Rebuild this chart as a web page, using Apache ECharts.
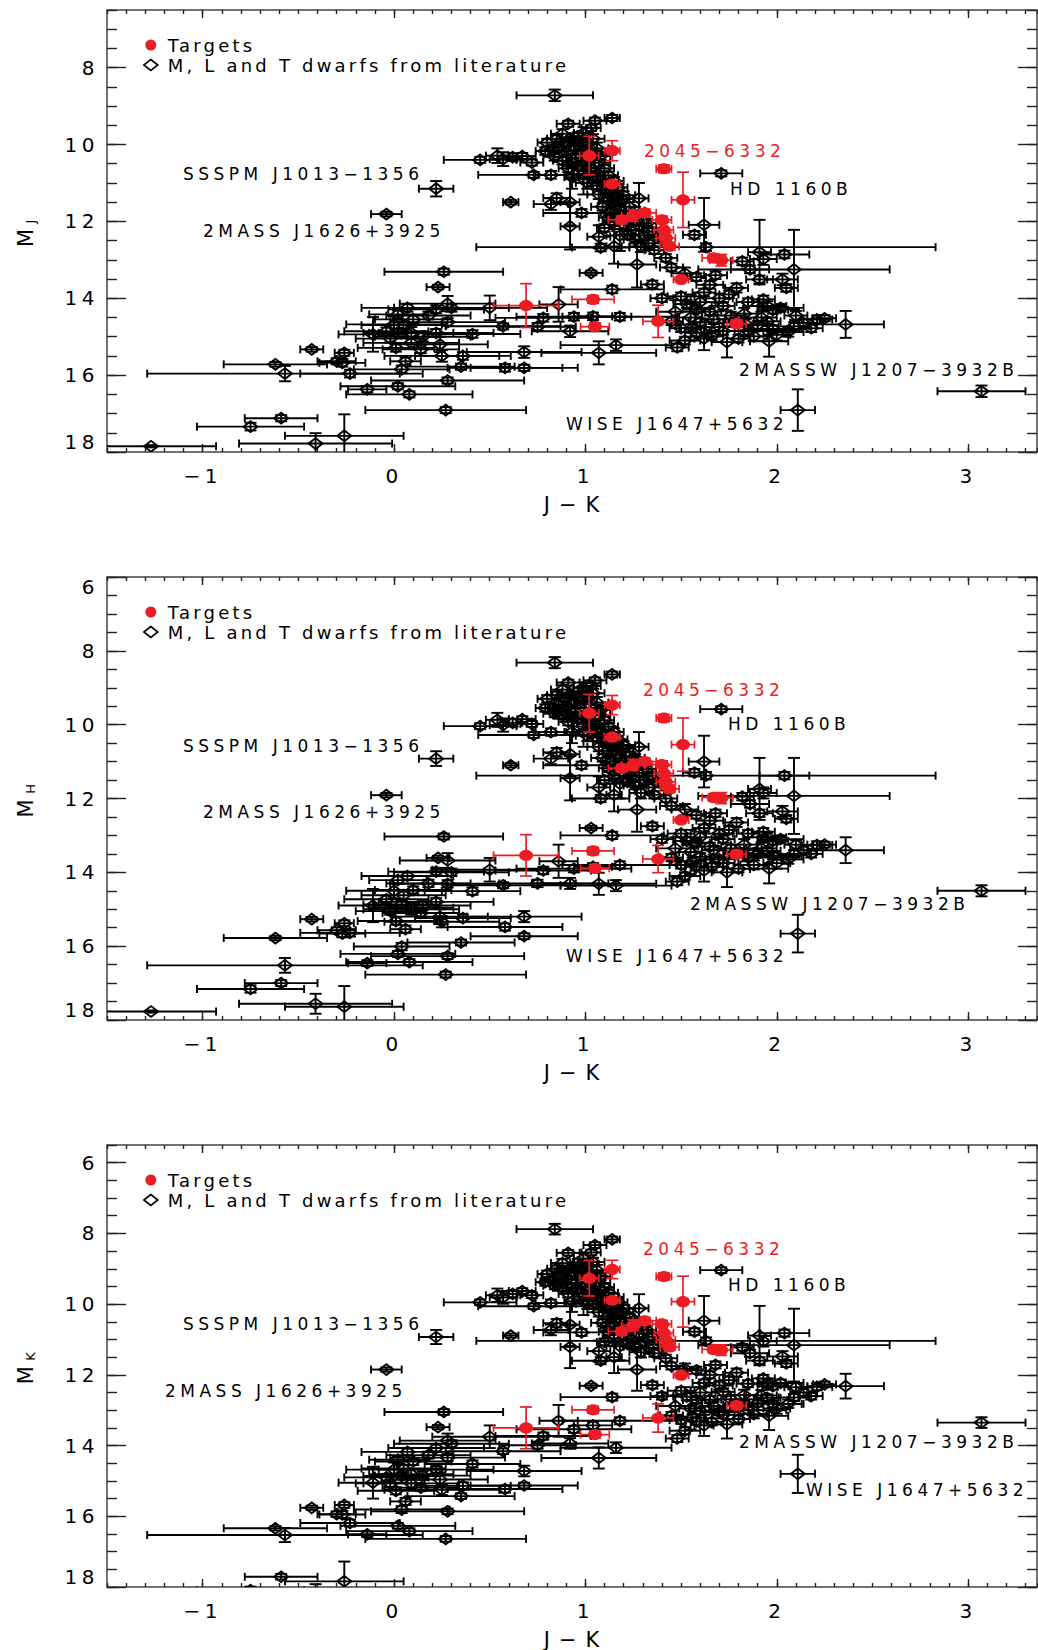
<!DOCTYPE html>
<html>
<head>
<meta charset="utf-8">
<script src="https://cdn.jsdelivr.net/npm/echarts@6/dist/echarts.min.js"></script>
<style>
  html, body { margin: 0; padding: 0; background: #fff; }
  #chart { width: 1038px; height: 1650px; }
  /* the original plot uses a wide, loosely spaced vector font */
  #chart text { letter-spacing: 4.5px; }
  #chart text[style*="17px"] { letter-spacing: 4.5px; }
  #chart text[style*="18px"] { letter-spacing: 3.2px; }
  #chart text[style*="21px"] { letter-spacing: 9px; }
  #chart text[style*="13px"] { letter-spacing: 0; }
</style>
</head>
<body>
<div id="chart"></div>
<script>
// rows are [J-K, err(J-K), absolute magnitude, err(mag)]
const litJ = [
  [0.84, 0.20, 8.72, 0.15], [0.22, 0.09, 11.15, 0.20], [-0.04, 0.08, 11.81, 0.06],
  [1.71, 0.11, 10.75, 0.08], [3.07, 0.23, 16.42, 0.15], [2.11, 0.09, 16.91, 0.54],
  [1.14, 0.04, 9.31, 0.08], [1.05, 0.06, 9.38, 0.08], [0.91, 0.06, 9.46, 0.08], [1.03, 0.05, 9.57, 0.08],
  [0.45, 0.19, 10.40, 0.08], [0.54, 0.06, 10.29, 0.19], [0.57, 0.07, 10.38, 0.18], [0.62, 0.05, 10.33, 0.10],
  [0.67, 0.07, 10.30, 0.08], [0.72, 0.06, 10.47, 0.08], [0.73, 0.29, 10.79, 0.08], [0.82, 0.08, 10.79, 0.10],
  [0.79, 0.05, 10.17, 0.10], [0.61, 0.04, 11.50, 0.06], [0.85, 0.07, 11.39, 0.12], [0.82, 0.09, 11.55, 0.15],
  [0.92, 0.05, 11.50, 0.60], [0.98, 0.20, 11.78, 0.10], [0.93, 0.04, 10.85, 0.30], [0.92, 0.05, 12.13, 0.60],
  [0.80, 0.05, 9.95, 0.10], [0.85, 0.05, 9.85, 0.10], [0.88, 0.06, 9.72, 0.12], [0.93, 0.05, 9.90, 0.10],
  [0.96, 0.04, 9.78, 0.10], [0.99, 0.05, 9.70, 0.15], [1.01, 0.05, 9.95, 0.10], [1.04, 0.06, 9.85, 0.12],
  [0.86, 0.05, 10.08, 0.10], [0.90, 0.06, 10.18, 0.10], [0.94, 0.05, 10.05, 0.10], [0.97, 0.06, 10.25, 0.12],
  [1.00, 0.05, 10.15, 0.10], [1.06, 0.06, 10.10, 0.15], [1.08, 0.05, 10.30, 0.10], [0.84, 0.06, 10.32, 0.10],
  [0.88, 0.05, 10.42, 0.10], [0.93, 0.05, 10.47, 0.12], [0.96, 0.06, 10.57, 0.10], [1.00, 0.05, 10.52, 0.10],
  [1.03, 0.05, 10.62, 0.15], [1.07, 0.06, 10.47, 0.10], [1.10, 0.05, 10.62, 0.10], [0.99, 0.05, 10.77, 0.10],
  [1.04, 0.05, 10.82, 0.12], [1.08, 0.06, 10.92, 0.10], [1.12, 0.05, 10.80, 0.10], [1.15, 0.05, 10.95, 0.10],
  [1.06, 0.05, 11.07, 0.10], [1.10, 0.06, 11.17, 0.12], [1.13, 0.05, 11.27, 0.10], [1.17, 0.05, 11.12, 0.10],
  [1.20, 0.06, 11.32, 0.10], [1.12, 0.05, 11.47, 0.15], [1.16, 0.05, 11.57, 0.10], [1.19, 0.06, 11.42, 0.10],
  [1.23, 0.05, 11.62, 0.12], [1.09, 0.06, 11.62, 0.10], [1.13, 0.05, 11.77, 0.10], [1.17, 0.06, 11.87, 0.12],
  [1.21, 0.05, 11.82, 0.10], [1.26, 0.05, 11.72, 0.10], [1.15, 0.06, 12.02, 0.10], [1.20, 0.05, 12.07, 0.12],
  [1.24, 0.06, 12.22, 0.10], [1.28, 0.05, 12.12, 0.10], [1.31, 0.06, 12.37, 0.12], [1.35, 0.05, 12.27, 0.10],
  [1.10, 0.04, 12.17, 0.10], [1.18, 0.07, 12.37, 0.40], [1.26, 0.06, 12.47, 0.10], [1.33, 0.07, 12.57, 0.15],
  [1.38, 0.06, 12.42, 0.10], [1.08, 0.15, 12.68, 0.10], [1.27, 0.10, 13.12, 0.60], [1.03, 0.06, 13.34, 0.06],
  [1.35, 0.06, 13.64, 0.10], [1.14, 0.27, 13.77, 0.10], [1.28, 0.05, 11.40, 0.40], [1.15, 0.04, 12.65, 0.45],
  [0.99, 0.05, 10.90, 0.40], [1.07, 0.06, 12.40, 0.30],
  [0.95, 0.05, 10.35, 0.10], [1.02, 0.05, 10.40, 0.12], [1.05, 0.05, 10.70, 0.10], [0.91, 0.05, 10.62, 0.10],
  [1.11, 0.05, 11.02, 0.10], [1.01, 0.06, 11.00, 0.15], [1.14, 0.05, 11.38, 0.10], [1.07, 0.06, 11.30, 0.12],
  [1.18, 0.05, 11.70, 0.10], [1.22, 0.05, 11.95, 0.12], [1.12, 0.05, 11.90, 0.10], [1.27, 0.06, 11.95, 0.10],
  [1.32, 0.05, 12.05, 0.12], [1.22, 0.06, 12.35, 0.10], [1.29, 0.06, 12.65, 0.15], [1.36, 0.05, 12.75, 0.10],
  [1.42, 0.06, 12.95, 0.10], [0.89, 0.05, 9.95, 0.10], [0.97, 0.05, 9.92, 0.12], [0.83, 0.06, 10.15, 0.10],
  [1.05, 0.05, 10.25, 0.10],
  [1.63, 1.20, 12.67, 0.10], [1.62, 0.08, 12.09, 0.70], [1.57, 0.06, 12.35, 0.10], [1.91, 0.06, 12.80, 0.84],
  [2.04, 0.13, 12.86, 0.10], [2.09, 0.50, 13.25, 1.03], [1.93, 0.07, 12.98, 0.15], [1.82, 0.06, 13.04, 0.10],
  [1.45, 0.06, 13.20, 0.10], [1.52, 0.07, 13.35, 0.15], [1.58, 0.05, 13.45, 0.10], [1.91, 0.07, 13.51, 0.10],
  [2.03, 0.08, 13.51, 0.15], [2.05, 0.06, 13.73, 0.10], [1.79, 0.06, 13.73, 0.12], [1.65, 0.07, 13.65, 0.10],
  [1.93, 0.06, 14.03, 0.10], [2.02, 0.12, 14.25, 0.10], [2.36, 0.20, 14.68, 0.35], [2.21, 0.08, 14.55, 0.10],
  [2.14, 0.07, 14.64, 0.10], [2.09, 0.08, 14.73, 0.10], [1.96, 0.10, 15.12, 0.40], [1.74, 0.08, 15.14, 0.40],
  [1.48, 0.06, 15.28, 0.10], [1.58, 0.07, 14.29, 0.10], [1.67, 0.06, 14.55, 0.12], [1.56, 0.07, 14.77, 0.10],
  [1.66, 0.06, 14.99, 0.10], [1.88, 0.07, 14.99, 0.12], [1.50, 0.07, 13.95, 0.10], [1.60, 0.08, 14.10, 0.15],
  [1.72, 0.06, 14.20, 0.10], [1.83, 0.07, 14.40, 0.15], [1.75, 0.05, 13.90, 0.10], [1.55, 0.06, 14.50, 0.60],
  [1.45, 0.06, 14.60, 0.10], [1.98, 0.15, 14.80, 0.10], [1.85, 0.20, 14.85, 0.10], [1.70, 0.10, 14.75, 0.10],
  [1.62, 0.05, 15.05, 0.30], [1.52, 0.08, 15.10, 0.10], [1.40, 0.06, 14.00, 0.10], [1.47, 0.10, 14.35, 0.30],
  [1.78, 0.06, 14.62, 0.10], [1.92, 0.08, 14.50, 0.15], [2.25, 0.06, 14.52, 0.08],
  [1.62, 0.06, 13.85, 0.10], [1.70, 0.07, 14.00, 0.12], [1.85, 0.06, 14.10, 0.10], [1.98, 0.08, 14.30, 0.10],
  [2.10, 0.06, 14.45, 0.12], [1.65, 0.06, 14.35, 0.10], [1.76, 0.07, 14.45, 0.10], [1.90, 0.06, 14.70, 0.10],
  [2.00, 0.07, 14.95, 0.15], [1.58, 0.06, 14.90, 0.10], [1.80, 0.06, 15.05, 0.10], [1.53, 0.07, 14.15, 0.10],
  [2.18, 0.06, 14.78, 0.10], [1.95, 0.10, 14.20, 0.12], [1.68, 0.06, 13.40, 0.10], [1.86, 0.10, 13.25, 0.10],
  [1.72, 0.06, 14.85, 0.10], [1.95, 0.07, 14.60, 0.10], [2.06, 0.08, 14.88, 0.12], [1.60, 0.06, 14.62, 0.10],
  [1.84, 0.06, 14.68, 0.15], [1.50, 0.06, 14.78, 0.10],
  [0.78, 0.25, 14.51, 0.10], [0.94, 0.30, 14.48, 0.10], [1.04, 0.10, 14.47, 0.10], [1.18, 0.30, 14.48, 0.10],
  [0.75, 0.20, 14.74, 0.10], [0.92, 0.20, 14.86, 0.15], [1.16, 0.29, 15.22, 0.15], [1.07, 0.30, 15.42, 0.30],
  [0.68, 0.30, 15.40, 0.15], [0.86, 0.10, 14.16, 0.45], [0.68, 0.28, 15.81, 0.08],
  [0.26, 0.31, 13.31, 0.08], [0.23, 0.06, 13.71, 0.06], [0.28, 0.25, 14.14, 0.20], [0.22, 0.25, 14.29, 0.10],
  [0.07, 0.24, 14.25, 0.10], [0.30, 0.30, 14.25, 0.10], [0.50, 0.30, 14.25, 0.32], [0.57, 0.30, 14.73, 0.08],
  [0.28, 0.30, 14.62, 0.10], [0.10, 0.20, 14.55, 0.10], [0.02, 0.15, 14.42, 0.10], [0.00, 0.25, 14.68, 0.20],
  [-0.04, 0.22, 14.86, 0.10], [-0.11, 0.18, 14.94, 0.45], [0.04, 0.20, 14.90, 0.10], [0.09, 0.22, 14.90, 0.15],
  [0.22, 0.30, 14.90, 0.10], [0.41, 0.25, 14.93, 0.10], [0.01, 0.20, 15.29, 0.10], [0.09, 0.25, 15.16, 0.15],
  [0.14, 0.20, 15.33, 0.10], [0.24, 0.25, 15.20, 0.20], [0.25, 0.30, 15.50, 0.15], [0.36, 0.25, 15.50, 0.10],
  [0.06, 0.08, 15.64, 0.10], [0.35, 0.28, 15.78, 0.08], [0.58, 0.30, 15.81, 0.10], [0.04, 0.25, 15.85, 0.10],
  [0.28, 0.40, 16.14, 0.08], [0.02, 0.30, 16.29, 0.08], [0.08, 0.33, 16.50, 0.08], [-0.14, 0.10, 16.37, 0.08],
  [0.27, 0.42, 16.91, 0.08], [-0.23, 0.26, 15.96, 0.10], [-0.26, 0.05, 15.42, 0.08], [-0.30, 0.10, 15.64, 0.08],
  [-0.27, 0.12, 15.68, 0.10], [-0.43, 0.06, 15.33, 0.06], [-0.62, 0.27, 15.72, 0.06], [-0.57, 0.72, 15.96, 0.20],
  [-0.59, 0.19, 17.12, 0.08], [-0.75, 0.28, 17.34, 0.10], [-0.26, 0.31, 17.58, 0.56], [-0.41, 0.40, 17.78, 0.27],
  [-1.27, 0.34, 17.85, 0.03],
  [0.05, 0.22, 14.70, 0.10], [0.15, 0.25, 15.00, 0.12], [-0.02, 0.18, 15.05, 0.10], [0.18, 0.22, 14.45, 0.10]
];

const litH = [
  [0.84, 0.20, 8.32, 0.15], [0.22, 0.09, 10.92, 0.20], [-0.04, 0.08, 11.91, 0.06],
  [1.71, 0.11, 9.58, 0.08], [3.07, 0.23, 14.50, 0.15], [2.11, 0.09, 15.66, 0.51],
  [1.14, 0.04, 8.64, 0.08], [1.05, 0.06, 8.80, 0.08], [0.91, 0.06, 8.86, 0.08], [1.03, 0.05, 8.95, 0.08],
  [0.45, 0.19, 10.04, 0.08], [0.54, 0.06, 9.87, 0.19], [0.57, 0.07, 10.01, 0.18], [0.62, 0.05, 9.95, 0.10],
  [0.67, 0.07, 9.85, 0.08], [0.72, 0.06, 9.98, 0.08], [0.73, 0.29, 10.28, 0.08], [0.82, 0.08, 10.20, 0.10],
  [0.79, 0.05, 9.55, 0.10], [0.61, 0.04, 11.10, 0.06], [0.85, 0.07, 10.75, 0.12], [0.82, 0.09, 10.92, 0.15],
  [0.92, 0.05, 10.80, 0.60], [0.98, 0.20, 11.10, 0.10], [0.93, 0.04, 10.20, 0.30], [0.92, 0.05, 11.45, 0.60],
  [0.80, 0.05, 9.30, 0.10], [0.85, 0.05, 9.20, 0.10], [0.88, 0.06, 9.05, 0.12], [0.93, 0.05, 9.20, 0.10],
  [0.96, 0.04, 9.10, 0.10], [0.99, 0.05, 9.00, 0.15], [1.01, 0.05, 9.25, 0.10], [1.04, 0.06, 9.15, 0.12],
  [0.86, 0.05, 9.45, 0.10], [0.90, 0.06, 9.50, 0.10], [0.94, 0.05, 9.35, 0.10], [0.97, 0.06, 9.55, 0.12],
  [1.00, 0.05, 9.45, 0.10], [1.06, 0.06, 9.40, 0.15], [1.08, 0.05, 9.60, 0.10], [0.84, 0.06, 9.70, 0.10],
  [0.88, 0.05, 9.75, 0.10], [0.93, 0.05, 9.80, 0.12], [0.96, 0.06, 9.85, 0.10], [1.00, 0.05, 9.80, 0.10],
  [1.03, 0.05, 9.90, 0.15], [1.07, 0.06, 9.75, 0.10], [1.10, 0.05, 9.88, 0.10], [0.99, 0.05, 10.05, 0.10],
  [1.04, 0.05, 10.10, 0.12], [1.08, 0.06, 10.20, 0.10], [1.12, 0.05, 10.05, 0.10], [1.15, 0.05, 10.20, 0.10],
  [1.06, 0.05, 10.35, 0.10], [1.10, 0.06, 10.45, 0.12], [1.13, 0.05, 10.50, 0.10], [1.17, 0.05, 10.40, 0.10],
  [1.20, 0.06, 10.55, 0.10], [1.12, 0.05, 10.70, 0.15], [1.16, 0.05, 10.80, 0.10], [1.19, 0.06, 10.65, 0.10],
  [1.23, 0.05, 10.85, 0.12], [1.09, 0.06, 10.90, 0.10], [1.13, 0.05, 11.00, 0.10], [1.17, 0.06, 11.10, 0.12],
  [1.21, 0.05, 11.00, 0.10], [1.26, 0.05, 10.90, 0.10], [1.15, 0.06, 11.25, 0.10], [1.20, 0.05, 11.30, 0.12],
  [1.24, 0.06, 11.40, 0.10], [1.28, 0.05, 11.30, 0.10], [1.31, 0.06, 11.50, 0.12], [1.35, 0.05, 11.40, 0.10],
  [1.10, 0.04, 11.50, 0.10], [1.18, 0.07, 11.60, 0.40], [1.26, 0.06, 11.65, 0.10], [1.33, 0.07, 11.70, 0.15],
  [1.38, 0.06, 11.55, 0.10], [1.08, 0.15, 12.00, 0.10], [1.27, 0.10, 12.30, 0.60], [1.03, 0.06, 12.80, 0.06],
  [1.35, 0.06, 12.75, 0.10], [1.14, 0.27, 13.00, 0.10], [1.28, 0.05, 10.60, 0.40], [1.15, 0.04, 11.90, 0.45],
  [0.99, 0.05, 10.20, 0.40], [1.07, 0.06, 11.70, 0.30],
  [0.95, 0.05, 9.65, 0.10], [1.02, 0.05, 9.70, 0.12], [1.05, 0.05, 9.98, 0.10], [0.91, 0.05, 9.92, 0.10],
  [1.11, 0.05, 10.28, 0.10], [1.01, 0.06, 10.30, 0.15], [1.14, 0.05, 10.62, 0.10], [1.07, 0.06, 10.60, 0.12],
  [1.18, 0.05, 10.92, 0.10], [1.22, 0.05, 11.15, 0.12], [1.12, 0.05, 11.18, 0.10], [1.27, 0.06, 11.12, 0.10],
  [1.32, 0.05, 11.20, 0.12], [1.22, 0.06, 11.55, 0.10], [1.29, 0.06, 11.85, 0.15], [1.36, 0.05, 11.90, 0.10],
  [1.42, 0.06, 12.00, 0.10], [0.89, 0.05, 9.28, 0.10], [0.97, 0.05, 9.25, 0.12], [0.83, 0.06, 9.55, 0.10],
  [1.05, 0.05, 9.55, 0.10],
  [1.63, 1.20, 11.38, 0.10], [1.62, 0.08, 11.00, 0.70], [1.57, 0.06, 11.30, 0.10], [1.91, 0.06, 11.74, 0.84],
  [2.04, 0.13, 11.38, 0.10], [2.09, 0.50, 11.93, 1.03], [1.93, 0.07, 11.85, 0.15], [1.82, 0.06, 11.95, 0.10],
  [1.45, 0.06, 12.20, 0.10], [1.52, 0.07, 12.30, 0.15], [1.58, 0.05, 12.45, 0.10], [1.91, 0.07, 12.40, 0.10],
  [2.03, 0.08, 12.35, 0.15], [2.05, 0.06, 12.55, 0.10], [1.79, 0.06, 12.65, 0.12], [1.65, 0.07, 12.60, 0.10],
  [1.93, 0.06, 12.90, 0.10], [2.02, 0.12, 13.10, 0.10], [2.36, 0.20, 13.40, 0.35], [2.21, 0.08, 13.26, 0.10],
  [2.14, 0.07, 13.40, 0.10], [2.09, 0.08, 13.50, 0.10], [1.96, 0.10, 13.90, 0.40], [1.74, 0.08, 14.00, 0.40],
  [1.48, 0.06, 14.25, 0.10], [1.58, 0.07, 13.20, 0.10], [1.67, 0.06, 13.40, 0.12], [1.56, 0.07, 13.70, 0.10],
  [1.66, 0.06, 13.85, 0.10], [1.88, 0.07, 13.80, 0.12], [1.50, 0.07, 12.95, 0.10], [1.60, 0.08, 13.05, 0.15],
  [1.72, 0.06, 13.10, 0.10], [1.83, 0.07, 13.25, 0.15], [1.75, 0.05, 12.85, 0.10], [1.55, 0.06, 13.45, 0.60],
  [1.45, 0.06, 13.60, 0.10], [1.98, 0.15, 13.55, 0.10], [1.85, 0.20, 13.60, 0.10], [1.70, 0.10, 13.65, 0.10],
  [1.62, 0.05, 13.95, 0.30], [1.52, 0.08, 14.10, 0.10], [1.40, 0.06, 13.10, 0.10], [1.47, 0.10, 13.35, 0.30],
  [1.78, 0.06, 13.50, 0.10], [1.92, 0.08, 13.35, 0.15], [2.25, 0.06, 13.25, 0.08],
  [1.62, 0.06, 12.80, 0.10], [1.70, 0.07, 12.95, 0.12], [1.85, 0.06, 12.95, 0.10], [1.98, 0.08, 13.15, 0.10],
  [2.10, 0.06, 13.25, 0.12], [1.65, 0.06, 13.30, 0.10], [1.76, 0.07, 13.35, 0.10], [1.90, 0.06, 13.50, 0.10],
  [2.00, 0.07, 13.75, 0.15], [1.58, 0.06, 13.85, 0.10], [1.80, 0.06, 13.90, 0.10], [1.53, 0.07, 13.15, 0.10],
  [2.18, 0.06, 13.50, 0.10], [1.95, 0.10, 13.05, 0.12], [1.68, 0.06, 12.40, 0.10], [1.86, 0.10, 12.15, 0.10],
  [1.72, 0.06, 13.75, 0.10], [1.95, 0.07, 13.42, 0.10], [2.06, 0.08, 13.65, 0.12], [1.60, 0.06, 13.58, 0.10],
  [1.84, 0.06, 13.55, 0.15], [1.50, 0.06, 13.80, 0.10],
  [0.78, 0.25, 13.95, 0.10], [0.94, 0.30, 13.90, 0.10], [1.04, 0.10, 13.85, 0.10], [1.18, 0.30, 13.80, 0.10],
  [0.75, 0.20, 14.30, 0.10], [0.92, 0.20, 14.30, 0.15], [1.16, 0.29, 14.36, 0.15], [1.07, 0.30, 14.31, 0.30],
  [0.68, 0.30, 15.20, 0.15], [0.86, 0.10, 13.70, 0.45], [0.68, 0.28, 15.73, 0.08],
  [0.26, 0.31, 13.03, 0.08], [0.23, 0.06, 13.61, 0.06], [0.28, 0.25, 13.68, 0.20], [0.22, 0.25, 13.98, 0.10],
  [0.07, 0.24, 14.10, 0.10], [0.30, 0.30, 14.00, 0.10], [0.50, 0.30, 13.93, 0.32], [0.57, 0.30, 14.35, 0.08],
  [0.28, 0.30, 14.31, 0.10], [0.10, 0.20, 14.48, 0.10], [0.02, 0.15, 14.21, 0.10], [0.00, 0.25, 14.50, 0.20],
  [-0.04, 0.22, 14.73, 0.10], [-0.11, 0.18, 14.90, 0.45], [0.04, 0.20, 14.87, 0.10], [0.09, 0.22, 14.96, 0.15],
  [0.22, 0.30, 14.80, 0.10], [0.41, 0.25, 14.51, 0.10], [0.01, 0.20, 15.32, 0.10], [0.09, 0.25, 15.00, 0.15],
  [0.14, 0.20, 15.10, 0.10], [0.24, 0.25, 15.20, 0.20], [0.25, 0.30, 15.34, 0.15], [0.36, 0.25, 15.24, 0.10],
  [0.06, 0.08, 15.54, 0.10], [0.35, 0.28, 15.90, 0.08], [0.58, 0.30, 15.48, 0.10], [0.04, 0.25, 16.01, 0.10],
  [0.28, 0.40, 16.27, 0.08], [0.02, 0.30, 16.21, 0.08], [0.08, 0.33, 16.43, 0.08], [-0.14, 0.10, 16.46, 0.08],
  [0.27, 0.42, 16.77, 0.08], [-0.23, 0.26, 15.64, 0.10], [-0.26, 0.05, 15.38, 0.08], [-0.30, 0.10, 15.57, 0.08],
  [-0.27, 0.12, 15.66, 0.10], [-0.43, 0.06, 15.27, 0.06], [-0.62, 0.27, 15.78, 0.06], [-0.57, 0.72, 16.52, 0.20],
  [-0.59, 0.19, 17.00, 0.08], [-0.75, 0.28, 17.16, 0.10], [-0.26, 0.31, 17.64, 0.56], [-0.41, 0.40, 17.56, 0.27],
  [-1.27, 0.34, 17.77, 0.03],
  [0.05, 0.22, 14.62, 0.10], [0.15, 0.25, 14.90, 0.12], [-0.02, 0.18, 15.05, 0.10], [0.18, 0.22, 14.30, 0.10]
];

const litK = [
  [0.84, 0.20, 7.88, 0.15], [0.22, 0.09, 10.93, 0.20], [-0.04, 0.08, 11.85, 0.06],
  [1.71, 0.11, 9.04, 0.08], [3.07, 0.23, 13.35, 0.15], [2.11, 0.09, 14.80, 0.54],
  [1.14, 0.04, 8.17, 0.08], [1.05, 0.06, 8.33, 0.08], [0.91, 0.06, 8.55, 0.08], [1.03, 0.05, 8.54, 0.08],
  [0.45, 0.19, 9.95, 0.08], [0.54, 0.06, 9.75, 0.19], [0.57, 0.07, 9.81, 0.18], [0.62, 0.05, 9.71, 0.10],
  [0.67, 0.07, 9.63, 0.08], [0.72, 0.06, 9.75, 0.08], [0.73, 0.29, 10.06, 0.08], [0.82, 0.08, 9.97, 0.10],
  [0.79, 0.05, 9.38, 0.10], [0.61, 0.04, 10.89, 0.06], [0.85, 0.07, 10.54, 0.12], [0.82, 0.09, 10.73, 0.15],
  [0.92, 0.05, 10.58, 0.60], [0.98, 0.20, 10.80, 0.10], [0.93, 0.04, 9.92, 0.30], [0.92, 0.05, 11.21, 0.60],
  [0.80, 0.05, 9.15, 0.10], [0.85, 0.05, 9.00, 0.10], [0.88, 0.06, 8.84, 0.12], [0.93, 0.05, 8.97, 0.10],
  [0.96, 0.04, 8.82, 0.10], [0.99, 0.05, 8.71, 0.15], [1.01, 0.05, 8.94, 0.10], [1.04, 0.06, 8.81, 0.12],
  [0.86, 0.05, 9.22, 0.10], [0.90, 0.06, 9.28, 0.10], [0.94, 0.05, 9.11, 0.10], [0.97, 0.06, 9.28, 0.12],
  [1.00, 0.05, 9.15, 0.10], [1.06, 0.06, 9.04, 0.15], [1.08, 0.05, 9.22, 0.10], [0.84, 0.06, 9.48, 0.10],
  [0.88, 0.05, 9.54, 0.10], [0.93, 0.05, 9.54, 0.12], [0.96, 0.06, 9.61, 0.10], [1.00, 0.05, 9.52, 0.10],
  [1.03, 0.05, 9.59, 0.15], [1.07, 0.06, 9.40, 0.10], [1.10, 0.05, 9.52, 0.10], [0.99, 0.05, 9.78, 0.10],
  [1.04, 0.05, 9.78, 0.12], [1.08, 0.06, 9.84, 0.10], [1.12, 0.05, 9.68, 0.10], [1.15, 0.05, 9.80, 0.10],
  [1.06, 0.05, 10.01, 0.10], [1.10, 0.06, 10.07, 0.12], [1.13, 0.05, 10.14, 0.10], [1.17, 0.05, 9.95, 0.10],
  [1.20, 0.06, 10.12, 0.10], [1.12, 0.05, 10.35, 0.15], [1.16, 0.05, 10.41, 0.10], [1.19, 0.06, 10.23, 0.10],
  [1.23, 0.05, 10.39, 0.12], [1.09, 0.06, 10.53, 0.10], [1.13, 0.05, 10.64, 0.10], [1.17, 0.06, 10.70, 0.12],
  [1.21, 0.05, 10.61, 0.10], [1.26, 0.05, 10.46, 0.10], [1.15, 0.06, 10.87, 0.10], [1.20, 0.05, 10.87, 0.12],
  [1.24, 0.06, 10.98, 0.10], [1.28, 0.05, 10.84, 0.10], [1.31, 0.06, 11.06, 0.12], [1.35, 0.05, 10.92, 0.10],
  [1.10, 0.04, 11.07, 0.10], [1.18, 0.07, 11.19, 0.40], [1.26, 0.06, 11.21, 0.10], [1.33, 0.07, 11.24, 0.15],
  [1.38, 0.06, 11.04, 0.10], [1.08, 0.15, 11.60, 0.10], [1.27, 0.10, 11.85, 0.60], [1.03, 0.06, 12.31, 0.06],
  [1.35, 0.06, 12.29, 0.10], [1.14, 0.27, 12.63, 0.10], [1.28, 0.05, 10.12, 0.40], [1.15, 0.04, 11.50, 0.45],
  [0.99, 0.05, 9.91, 0.40], [1.07, 0.06, 11.33, 0.30],
  [0.95, 0.05, 9.40, 0.10], [1.02, 0.05, 9.38, 0.12], [1.05, 0.05, 9.65, 0.10], [0.91, 0.05, 9.71, 0.10],
  [1.11, 0.05, 9.91, 0.10], [1.01, 0.06, 9.99, 0.15], [1.14, 0.05, 10.24, 0.10], [1.07, 0.06, 10.23, 0.12],
  [1.18, 0.05, 10.52, 0.10], [1.22, 0.05, 10.73, 0.12], [1.12, 0.05, 10.78, 0.10], [1.27, 0.06, 10.68, 0.10],
  [1.32, 0.05, 10.73, 0.12], [1.22, 0.06, 11.13, 0.10], [1.29, 0.06, 11.36, 0.15], [1.36, 0.05, 11.39, 0.10],
  [1.42, 0.06, 11.53, 0.10], [0.89, 0.05, 9.06, 0.10], [0.97, 0.05, 8.95, 0.12], [0.83, 0.06, 9.32, 0.10],
  [1.05, 0.05, 9.20, 0.10],
  [1.63, 1.20, 11.04, 0.10], [1.62, 0.08, 10.47, 0.70], [1.57, 0.06, 10.78, 0.10], [1.91, 0.06, 10.89, 0.84],
  [2.04, 0.13, 10.82, 0.10], [2.09, 0.50, 11.16, 1.03], [1.93, 0.07, 11.05, 0.15], [1.82, 0.06, 11.22, 0.10],
  [1.45, 0.06, 11.75, 0.10], [1.52, 0.07, 11.83, 0.15], [1.58, 0.05, 11.87, 0.10], [1.91, 0.07, 11.60, 0.10],
  [2.03, 0.08, 11.48, 0.15], [2.05, 0.06, 11.68, 0.10], [1.79, 0.06, 11.94, 0.12], [1.65, 0.07, 12.00, 0.10],
  [1.93, 0.06, 12.10, 0.10], [2.02, 0.12, 12.23, 0.10], [2.36, 0.20, 12.32, 0.35], [2.21, 0.08, 12.34, 0.10],
  [2.14, 0.07, 12.50, 0.10], [2.09, 0.08, 12.64, 0.10], [1.96, 0.10, 13.16, 0.40], [1.74, 0.08, 13.40, 0.40],
  [1.48, 0.06, 13.80, 0.10], [1.58, 0.07, 12.71, 0.10], [1.67, 0.06, 12.88, 0.12], [1.56, 0.07, 13.21, 0.10],
  [1.66, 0.06, 13.33, 0.10], [1.88, 0.07, 13.11, 0.12], [1.50, 0.07, 12.45, 0.10], [1.60, 0.08, 12.50, 0.15],
  [1.72, 0.06, 12.48, 0.10], [1.83, 0.07, 12.57, 0.15], [1.75, 0.05, 12.15, 0.10], [1.55, 0.06, 12.95, 0.60],
  [1.45, 0.06, 13.15, 0.10], [1.98, 0.15, 12.82, 0.10], [1.85, 0.20, 13.00, 0.10], [1.70, 0.10, 13.05, 0.10],
  [1.62, 0.05, 13.43, 0.30], [1.52, 0.08, 13.58, 0.10], [1.40, 0.06, 12.60, 0.10], [1.47, 0.10, 12.88, 0.30],
  [1.78, 0.06, 12.84, 0.10], [1.92, 0.08, 12.58, 0.15], [2.25, 0.06, 12.27, 0.08],
  [1.62, 0.06, 12.23, 0.10], [1.70, 0.07, 12.30, 0.12], [1.85, 0.06, 12.25, 0.10], [1.98, 0.08, 12.32, 0.10],
  [2.10, 0.06, 12.35, 0.12], [1.65, 0.06, 12.70, 0.10], [1.76, 0.07, 12.69, 0.10], [1.90, 0.06, 12.80, 0.10],
  [2.00, 0.07, 12.95, 0.15], [1.58, 0.06, 13.32, 0.10], [1.80, 0.06, 13.25, 0.10], [1.53, 0.07, 12.62, 0.10],
  [2.18, 0.06, 12.60, 0.10], [1.95, 0.10, 12.25, 0.12], [1.68, 0.06, 11.72, 0.10], [1.86, 0.10, 11.39, 0.10],
  [1.72, 0.06, 13.13, 0.10], [1.95, 0.07, 12.65, 0.10], [2.06, 0.08, 12.82, 0.12], [1.60, 0.06, 13.02, 0.10],
  [1.84, 0.06, 12.84, 0.15], [1.50, 0.06, 13.28, 0.10],
  [0.78, 0.25, 13.73, 0.10], [0.94, 0.30, 13.54, 0.10], [1.04, 0.10, 13.43, 0.10], [1.18, 0.30, 13.30, 0.10],
  [0.75, 0.20, 13.99, 0.10], [0.92, 0.20, 13.94, 0.15], [1.16, 0.29, 14.06, 0.15], [1.07, 0.30, 14.35, 0.30],
  [0.68, 0.30, 14.72, 0.15], [0.86, 0.10, 13.30, 0.45], [0.68, 0.28, 15.13, 0.08],
  [0.26, 0.31, 13.05, 0.08], [0.23, 0.06, 13.48, 0.06], [0.28, 0.25, 13.86, 0.20], [0.22, 0.25, 14.07, 0.10],
  [0.07, 0.24, 14.18, 0.10], [0.30, 0.30, 13.95, 0.10], [0.50, 0.30, 13.75, 0.32], [0.57, 0.30, 14.16, 0.08],
  [0.28, 0.30, 14.34, 0.10], [0.10, 0.20, 14.45, 0.10], [0.02, 0.15, 14.40, 0.10], [0.00, 0.25, 14.68, 0.20],
  [-0.04, 0.22, 14.90, 0.10], [-0.11, 0.18, 15.05, 0.45], [0.04, 0.20, 14.86, 0.10], [0.09, 0.22, 14.81, 0.15],
  [0.22, 0.30, 14.68, 0.10], [0.41, 0.25, 14.52, 0.10], [0.01, 0.20, 15.28, 0.10], [0.09, 0.25, 15.07, 0.15],
  [0.14, 0.20, 15.19, 0.10], [0.24, 0.25, 14.96, 0.20], [0.25, 0.30, 15.25, 0.15], [0.36, 0.25, 15.14, 0.10],
  [0.06, 0.08, 15.58, 0.10], [0.35, 0.28, 15.43, 0.08], [0.58, 0.30, 15.23, 0.10], [0.04, 0.25, 15.81, 0.10],
  [0.28, 0.40, 15.86, 0.08], [0.02, 0.30, 16.27, 0.08], [0.08, 0.33, 16.42, 0.08], [-0.14, 0.10, 16.51, 0.08],
  [0.27, 0.42, 16.64, 0.08], [-0.23, 0.26, 16.19, 0.10], [-0.26, 0.05, 15.68, 0.08], [-0.30, 0.10, 15.94, 0.08],
  [-0.27, 0.12, 15.95, 0.10], [-0.43, 0.06, 15.76, 0.06], [-0.62, 0.27, 16.34, 0.06], [-0.57, 0.72, 16.53, 0.20],
  [-0.59, 0.19, 17.71, 0.08], [-0.75, 0.28, 18.09, 0.10], [-0.26, 0.31, 17.84, 0.56], [-0.41, 0.40, 18.19, 0.27],
  [-1.27, 0.34, 19.12, 0.03],
  [0.05, 0.22, 14.65, 0.10], [0.15, 0.25, 14.85, 0.12], [-0.02, 0.18, 15.07, 0.10], [0.18, 0.22, 14.27, 0.10]
];

const tgtJ = [
  [1.02, 0.05, 10.29, 0.50], [1.14, 0.04, 10.16, 0.26], [1.41, 0.04, 10.63, 0.10], [1.51, 0.06, 11.44, 0.72],
  [1.14, 0.04, 11.03, 0.08], [1.19, 0.07, 11.96, 0.10], [1.25, 0.06, 11.85, 0.15], [1.31, 0.06, 11.78, 0.10],
  [1.40, 0.05, 11.96, 0.10], [1.41, 0.05, 12.22, 0.20], [1.42, 0.05, 12.43, 0.15], [1.44, 0.05, 12.65, 0.10],
  [1.67, 0.06, 12.95, 0.10], [1.71, 0.06, 13.01, 0.15], [1.50, 0.04, 13.51, 0.05], [1.79, 0.05, 14.66, 0.10],
  [0.69, 0.17, 14.19, 0.57], [1.04, 0.11, 14.03, 0.10], [1.05, 0.075, 14.74, 0.10], [1.38, 0.08, 14.60, 0.42]
];
const tgtH = [
  [1.02, 0.05, 9.69, 0.51], [1.14, 0.04, 9.47, 0.26], [1.41, 0.04, 9.82, 0.10], [1.51, 0.06, 10.54, 0.72],
  [1.14, 0.04, 10.34, 0.08], [1.19, 0.07, 11.18, 0.10], [1.25, 0.06, 11.09, 0.15], [1.31, 0.06, 11.00, 0.10],
  [1.40, 0.05, 11.08, 0.10], [1.41, 0.05, 11.32, 0.20], [1.42, 0.05, 11.55, 0.15], [1.44, 0.05, 11.74, 0.10],
  [1.67, 0.06, 11.97, 0.10], [1.71, 0.06, 11.99, 0.15], [1.50, 0.04, 12.58, 0.05], [1.79, 0.05, 13.51, 0.10],
  [0.69, 0.17, 13.54, 0.56], [1.04, 0.11, 13.42, 0.10], [1.05, 0.075, 13.89, 0.10], [1.38, 0.08, 13.64, 0.37]
];
const tgtK = [
  [1.02, 0.05, 9.27, 0.50], [1.14, 0.04, 9.02, 0.26], [1.41, 0.04, 9.22, 0.10], [1.51, 0.06, 9.93, 0.72],
  [1.14, 0.04, 9.89, 0.08], [1.19, 0.07, 10.77, 0.10], [1.25, 0.06, 10.60, 0.15], [1.31, 0.06, 10.47, 0.10],
  [1.40, 0.05, 10.56, 0.10], [1.41, 0.05, 10.81, 0.20], [1.42, 0.05, 11.01, 0.15], [1.44, 0.05, 11.21, 0.10],
  [1.67, 0.06, 11.28, 0.10], [1.71, 0.06, 11.30, 0.15], [1.50, 0.04, 12.01, 0.05], [1.79, 0.05, 12.87, 0.10],
  [0.69, 0.17, 13.50, 0.59], [1.04, 0.11, 12.99, 0.10], [1.05, 0.075, 13.69, 0.10], [1.38, 0.08, 13.22, 0.40]
];

const jkTicks = [-1, 0, 1, 2, 3];
const magTicksJ = [8, 10, 12, 14, 16, 18];
const magTicks = [6, 8, 10, 12, 14, 16, 18];
const noteText = ['2045\u22126332', 'HD 1160B', 'SSSPM J1013\u22121356',
  '2MASS J1626+3925', '2MASSW J1207\u22123932B', 'WISE J1647+5632'];

const RED = '#ec1c24';
const FONT = '"DejaVu Sans", sans-serif';
const LIT_NAME = 'M, L and T dwarfs from literature';

// pixel layout of each panel (frame top/height, magnitude range) and its note anchors
const panels = [
  { top: 10, height: 442, min: 6.5, ticks: magTicksJ, band: 'J', lit: litJ, tgt: tgtJ, topLabel: false,
    notes: [[644, 151], [730, 189], [183, 174], [203, 231], [739, 370], [566, 424]] },
  { top: 577, height: 443, min: 6, ticks: magTicks, band: 'H', lit: litH, tgt: tgtH, topLabel: true,
    notes: [[643, 690], [728, 723.5], [183, 745.5], [203, 812], [690, 903.5], [566, 956]] },
  { top: 1145, height: 442, min: 5.5, ticks: magTicks, band: 'K', lit: litK, tgt: tgtK, topLabel: false,
    notes: [[643, 1249], [728, 1284.5], [183, 1323.5], [165, 1391], [739, 1441.5], [806, 1489.5]] }
];

const tickLine = { color: '#222', width: 1.4 };

function fmtJK(v) {
  return v < 0 ? '\u2212' + Math.abs(v) : String(v);
}

function errorBars(kind) {
  return function (params, api) {
    const jk = api.value(0), ejk = api.value(1), m = api.value(2), em = api.value(3);
    const p = api.coord([jk, m]);
    const xl = api.coord([jk - ejk, m])[0];
    const xr = api.coord([jk + ejk, m])[0];
    const yt = api.coord([jk, m - em])[1];
    const yb = api.coord([jk, m + em])[1];
    const col = kind === 'target' ? RED : '#000';
    const lw = kind === 'target' ? 1.7 : 1.9;
    const ls = { stroke: col, lineWidth: lw, fill: 'none' };
    const seg = (x1, y1, x2, y2) => ({ type: 'line', shape: { x1, y1, x2, y2 }, style: ls });
    const kids = [
      seg(xl, p[1], xr, p[1]),
      seg(xl, p[1] - 4, xl, p[1] + 4),
      seg(xr, p[1] - 4, xr, p[1] + 4),
      seg(p[0], yt, p[0], yb),
      seg(p[0] - 6, yt, p[0] + 6, yt),
      seg(p[0] - 6, yb, p[0] + 6, yb)
    ];
    if (kind === 'target') {
      kids.push({ type: 'ellipse', shape: { cx: p[0], cy: p[1], rx: 7, ry: 5.6 }, style: { fill: RED } });
    } else {
      kids.push({
        type: 'polygon',
        shape: { points: [[p[0] - 7, p[1]], [p[0], p[1] - 5.4], [p[0] + 7, p[1]], [p[0], p[1] + 5.4]] },
        style: { fill: 'none', stroke: '#000', lineWidth: 1.9 }
      });
    }
    return { type: 'group', children: kids };
  };
}

const grids = [], xAxes = [], yAxes = [], series = [], legends = [], graphics = [];

panels.forEach((p, gi) => {
  grids.push({
    left: 107, top: p.top, width: 930, height: p.height,
    show: true, borderColor: '#444', borderWidth: 1.5, backgroundColor: 'transparent',
    outerBoundsMode: 'none'
  });

  const xb = { gridIndex: gi, type: 'value', min: -1.5, max: 3.36,
    axisLine: { show: false, onZero: false }, splitLine: { show: false } };
  const xMajor = { inside: true, length: 8, customValues: jkTicks, lineStyle: tickLine };
  const xMinor = { inside: true, length: 4, lineStyle: tickLine };
  xAxes.push(
    Object.assign({}, xb, {
      position: 'bottom', axisTick: xMajor,
      axisLabel: { customValues: jkTicks, formatter: fmtJK, margin: 14, fontSize: 20, fontFamily: FONT, color: '#000' },
      name: 'J\u2212K', nameLocation: 'middle', nameGap: 42,
      nameTextStyle: { fontSize: 21, fontFamily: FONT, color: '#000', padding: [0, 0, 0, 8] }
    }),
    Object.assign({}, xb, { position: 'bottom', interval: 0.1, axisTick: xMinor, axisLabel: { show: false } }),
    Object.assign({}, xb, { position: 'top', axisTick: xMajor, axisLabel: { show: false } }),
    Object.assign({}, xb, { position: 'top', interval: 0.1, axisTick: xMinor, axisLabel: { show: false } })
  );

  const yb = { gridIndex: gi, type: 'value', inverse: true, min: p.min, max: 18,
    axisLine: { show: false, onZero: false }, splitLine: { show: false } };
  const yMajor = { inside: true, length: 19, customValues: p.ticks, lineStyle: tickLine };
  const yMinor = { inside: true, length: 10, lineStyle: tickLine };
  const yLabel = { customValues: p.ticks, margin: 8, fontSize: 20, fontFamily: FONT, color: '#000',
    showMinLabel: true, showMaxLabel: true, verticalAlignMaxLabel: 'bottom' };
  if (p.topLabel) yLabel.verticalAlignMinLabel = 'top';
  yAxes.push(
    Object.assign({}, yb, {
      position: 'left', axisTick: yMajor, axisLabel: yLabel,
      name: '{m|M}{s|' + p.band + '}', nameLocation: 'middle', nameRotate: 90, nameGap: 70,
      nameTextStyle: {
        rich: {
          m: { fontSize: 21, fontFamily: FONT, color: '#000', lineHeight: 22, verticalAlign: 'top' },
          s: { fontSize: 13, fontFamily: FONT, color: '#000', lineHeight: 13, verticalAlign: 'bottom', padding: [20, 0, 0, 1] }
        }
      }
    }),
    Object.assign({}, yb, { position: 'left', interval: 0.5, axisTick: yMinor, axisLabel: { show: false } }),
    Object.assign({}, yb, { position: 'right', axisTick: yMajor, axisLabel: { show: false } }),
    Object.assign({}, yb, { position: 'right', interval: 0.5, axisTick: yMinor, axisLabel: { show: false } })
  );

  series.push(
    { type: 'custom', name: LIT_NAME, xAxisIndex: gi * 4, yAxisIndex: gi * 4, data: p.lit,
      encode: { x: 0, y: 2 }, renderItem: errorBars('lit'), clip: true, silent: true, z: 2 },
    { type: 'custom', name: 'Targets', xAxisIndex: gi * 4, yAxisIndex: gi * 4, data: p.tgt,
      encode: { x: 0, y: 2 }, renderItem: errorBars('target'), clip: true, silent: true, z: 3 }
  );

  legends.push({
    left: 143, top: p.top + 25, orient: 'vertical', padding: 0, itemGap: 0,
    itemWidth: 14, itemHeight: 11, selectedMode: false,
    textStyle: { fontSize: 18, fontFamily: FONT, color: '#000', lineHeight: 20, padding: [0, 0, 0, 5] },
    data: [
      { name: 'Targets', icon: 'path://M0,5A5,5,0,1,1,10,5A5,5,0,1,1,0,5Z', itemStyle: { color: RED, borderWidth: 0 } },
      { name: LIT_NAME, icon: 'diamond', itemStyle: { color: 'rgba(0,0,0,0)', borderColor: '#000', borderWidth: 1.6 } }
    ]
  });

  p.notes.forEach((pos, i) => {
    graphics.push({
      type: 'text', x: pos[0], y: pos[1], silent: true,
      style: { text: noteText[i], fill: i === 0 ? RED : '#000', fontSize: 17, fontFamily: FONT,
        align: 'left', verticalAlign: 'middle' }
    });
  });
});

const chart = echarts.init(document.getElementById('chart'), null, { renderer: 'svg' });
chart.setOption({
  animation: false,
  backgroundColor: '#fff',
  grid: grids,
  xAxis: xAxes,
  yAxis: yAxes,
  legend: legends,
  graphic: graphics,
  series: series
});
</script>
</body>
</html>
